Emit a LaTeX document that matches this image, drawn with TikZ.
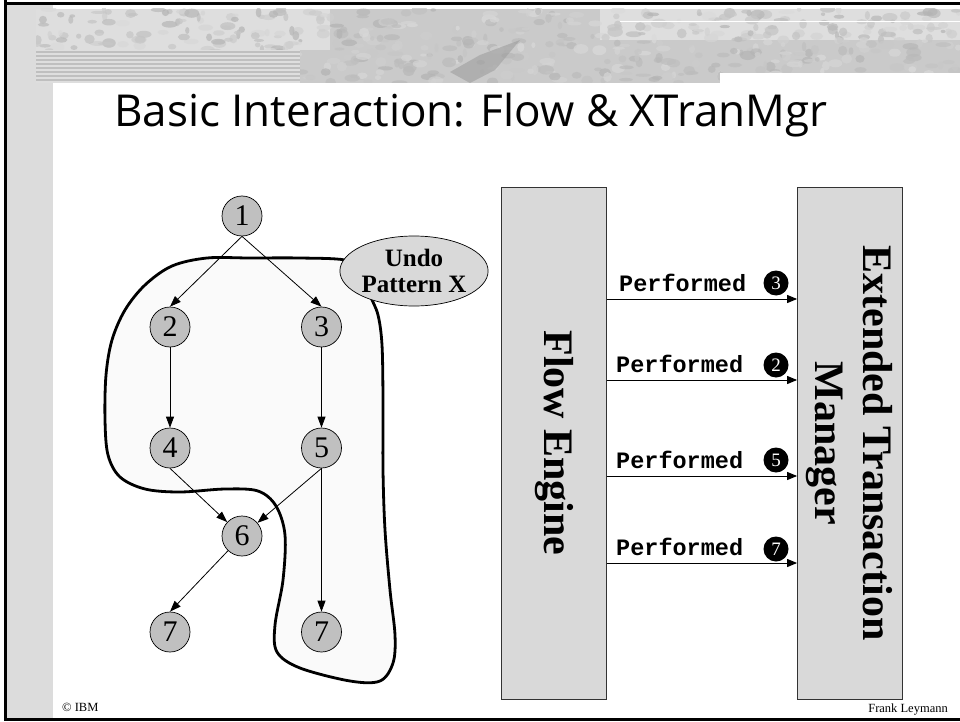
\documentclass[tikz,border=0pt]{standalone}
\usepackage{fontspec}
\setmainfont{Liberation Serif}
\newfontfamily\monob{Liberation Mono}
\newfontfamily\titlefont{Open Sans}
\usetikzlibrary{arrows.meta,shapes.geometric}
\definecolor{nodegray}{HTML}{C0C0C0}
\definecolor{boxgray}{HTML}{D9D9D9}
\definecolor{blobfill}{HTML}{FAFAFA}
\definecolor{stripgray}{HTML}{DCDCDC}
\definecolor{bandgray}{HTML}{CACACA}
\definecolor{bandlight}{HTML}{DEDEDE}
\begin{document}
\begin{tikzpicture}[x=1pt,y=-1pt,
  task/.style={circle,draw=black,line width=0.7pt,fill=nodegray,minimum size=40pt,inner sep=0pt,font=\fontsize{30}{30}\selectfont},
  flow/.style={line width=0.8pt,-{Triangle[length=11pt,width=8pt]}},
  msg/.style={line width=1pt,-{Triangle[length=10pt,width=8pt]}},
  sysbox/.style={rectangle,draw=black!80,line width=0.8pt,fill=boxgray,inner sep=0pt},
  perf/.style={anchor=base west,inner sep=0pt,font=\monob\bfseries\fontsize{23.5}{23.5}\selectfont},
  numdot/.style={circle,fill=black,text=white,inner sep=0pt,minimum size=25pt,font=\fontsize{19}{19}\selectfont},
  syslabel/.style={rotate=-90,align=center,inner sep=0pt,font=\bfseries\fontsize{42}{48}\selectfont},
  foot/.style={inner sep=0pt,font=\fontsize{12.5}{12.5}\selectfont}
  ]
\useasboundingbox (0,0) rectangle (960,722);
\fill[white] (0,0) rectangle (960,722);
% slide decoration
\fill[stripgray] (6,5) rectangle (53,718);
\fill[bandgray] (36,9) rectangle (960,83);
\fill[bandlight] (36,9) rectangle (330,50);
\fill[bandlight] (600,9) rectangle (960,40);
\begin{scope}
\clip (36,9) rectangle (960,83);
\pgfmathsetseed{42}
\foreach \i in {1,...,600}{
  \pgfmathsetmacro{\px}{36+924*rnd}
  \pgfmathsetmacro{\py}{9+74*rnd}
  \pgfmathsetmacro{\g}{14+16*rnd}
  \pgfmathsetmacro{\ra}{2+6*rnd}
  \pgfmathsetmacro{\rb}{1.5+3.5*rnd}
  \fill[black!\g,opacity=0.7] (\px,\py) ellipse [x radius=\ra, y radius=\rb];
}
\end{scope}
\fill[bandlight] (36,50) rectangle (300,83);
\foreach \yy in {52,56,60,64,68,72,76,80}{
  \draw[black!25,line width=1.2pt] (36,\yy) -- (300,\yy);
}
\fill[black!38,opacity=0.6] (450,72) -- (480,55) -- (520,40) -- (495,70) -- (470,83) -- cycle;
\fill[white] (720,73) rectangle (960,83);
\fill[white] (620,21) rectangle (960,22.5);
\draw[black,line width=3pt] (5.5,0) -- (5.5,719.5) -- (960,719.5);
\draw[black,line width=3pt] (4,4) -- (960,4);
% title
\node[anchor=base west,inner sep=0pt,font=\titlefont\fontsize{44}{44}\selectfont] (title) at (114,127) {Basic Interaction: Flow \& XTranMgr};
% blob
\draw[line width=2.8pt,fill=blobfill] plot[smooth cycle,tension=0.55] coordinates {
 (250,258) (207,258) (172,266) (145,285) (125,310) (112,340) (106,375) (105,420)
 (108,455) (120,477) (145,489) (180,492) (225,489) (258,491) (276,506) (285,535)
 (283,580) (275,625) (277,652) (300,668) (350,681) (380,681) (393,663) (395,635)
 (390,590) (385,530) (383,470) (383,400) (382,345) (378,315) (370,295) (362,270)
 (345,260) (300,258)};
% nodes
\node[task] (n1) at (242,216) {1};
\node[task] (n2) at (170,327) {2};
\node[task] (n3) at (321.5,327) {3};
\node[task] (n4) at (170,448) {4};
\node[task] (n5) at (321.5,448) {5};
\node[task] (n6) at (242,536) {6};
\node[task] (n7a) at (170,632) {7};
\node[task] (n7b) at (321.5,632) {7};
\draw[flow] (n1.south) -- (n2.north);
\draw[flow] (n1.south) -- (n3.north);
\draw[flow] (n2.south) -- (n4.north);
\draw[flow] (n3.south) -- (n5.north);
\draw[flow] (n4.south) -- (n6);
\draw[flow] (n5.south) -- (n6);
\draw[flow] (n6) -- (n7a.north);
\draw[flow] (n5.south) -- (n7b.north);
\node[ellipse,draw=black,line width=0.7pt,fill=boxgray,minimum width=144pt,minimum height=70pt,inner sep=0pt,align=center,font=\bfseries\fontsize{25}{26}\selectfont] (undo) at (414,271) {Undo\\Pattern X};
% system boxes
\node[sysbox,minimum width=104.5pt,minimum height=512pt] (fe) at (554,443) {};
\node[sysbox,minimum width=104.5pt,minimum height=512pt] (etm) at (849.75,443) {};
\node[syslabel] (felabel) at (fe.center) {Flow Engine};
\node[syslabel] (etmlabel) at (etm.center) {Extended Transaction\\Manager};
\coordinate (r1) at (0,299);
\coordinate (r2) at (0,380);
\coordinate (r3) at (0,476);
\coordinate (r4) at (0,563);
\draw[msg] (fe.east |- r1) -- (etm.west |- r1);
\draw[msg] (fe.east |- r2) -- (etm.west |- r2);
\draw[msg] (fe.east |- r3) -- (etm.west |- r3);
\draw[msg] (fe.east |- r4) -- (etm.west |- r4);
\node[perf] (p1) at (619,291.5) {Performed};
\node[perf] (p2) at (616,372.5) {Performed};
\node[perf] (p3) at (616,468.5) {Performed};
\node[perf] (p4) at (616,555.5) {Performed};
\node[numdot] (d1) at (776,283) {3};
\node[numdot] (d2) at (776,365) {2};
\node[numdot] (d3) at (776,460) {5};
\node[numdot] (d4) at (776,549) {7};
% footer
\node[foot,anchor=base west] (ibm) at (62,711) {\textcopyright{} IBM};
\node[foot,anchor=base east] (author) at (948,712) {Frank Leymann};
\end{tikzpicture}
\end{document}
